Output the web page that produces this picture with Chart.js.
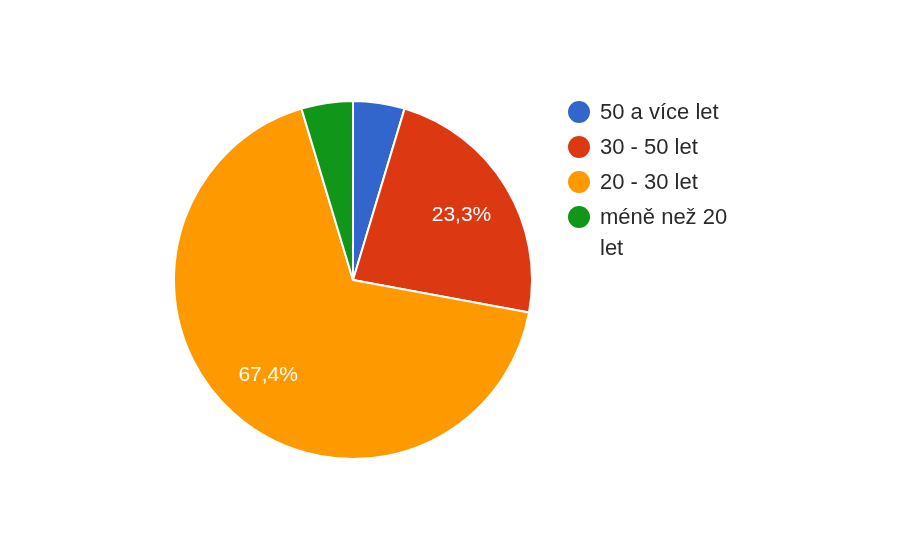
<!DOCTYPE html>
<html>
<head>
<meta charset="utf-8">
<script src="https://cdn.jsdelivr.net/npm/chart.js@4/dist/chart.umd.min.js"></script>
<style>
  html, body { margin: 0; padding: 0; background: #fff; }
  #wrap { width: 909px; height: 549px; position: relative; }
</style>
</head>
<body>
<div id="wrap"><canvas id="pie"></canvas></div>
<script>
// data
const labels = ['50 a více let', '30 - 50 let', '20 - 30 let', 'méně než 20 let'];
const counts = [2, 10, 29, 2];
const colors = ['#3366cc', '#dc3912', '#ff9900', '#109618'];

const total = counts.reduce((a, b) => a + b, 0);
const FONT = 'Arial, "Liberation Sans", sans-serif';

// percent labels inside the bigger slices
const sliceLabels = {
  id: 'sliceLabels',
  afterDatasetsDraw(chart) {
    const ctx = chart.ctx;
    const meta = chart.getDatasetMeta(0);
    ctx.save();
    ctx.font = '21px ' + FONT;
    ctx.fillStyle = '#fff';
    ctx.textAlign = 'center';
    ctx.textBaseline = 'middle';
    meta.data.forEach((arc, i) => {
      const pct = counts[i] / total * 100;
      if (pct < 10) return;
      const p = arc.getProps(['x', 'y', 'startAngle', 'endAngle', 'outerRadius']);
      const mid = (p.startAngle + p.endAngle) / 2;
      const r = p.outerRadius * 0.71;
      const txt = pct.toFixed(1).replace('.', ',') + '%';
      ctx.fillText(txt, p.x + Math.cos(mid) * r, p.y + Math.sin(mid) * r + 1);
    });
    ctx.restore();
  }
};

// legend on the right, wraps long labels
const sideLegend = {
  id: 'sideLegend',
  afterDraw(chart) {
    const ctx = chart.ctx;
    const x0 = 579, y0 = 112, step = 35, maxW = 145, lineH = 31;
    ctx.save();
    ctx.font = '22px ' + FONT;
    ctx.textBaseline = 'middle';
    labels.forEach((lab, i) => {
      const y = y0 + i * step;
      ctx.beginPath();
      ctx.arc(x0, y, 11, 0, Math.PI * 2);
      ctx.fillStyle = colors[i];
      ctx.fill();
      // wrap words
      const words = lab.split(' ');
      const lines = [];
      let cur = '';
      words.forEach(w => {
        const t = cur ? cur + ' ' + w : w;
        if (ctx.measureText(t).width > maxW && cur) { lines.push(cur); cur = w; }
        else cur = t;
      });
      lines.push(cur);
      ctx.fillStyle = '#2a2a2a';
      lines.forEach((ln, k) => ctx.fillText(ln, 600, y + 1 + k * lineH));
    });
    ctx.restore();
  }
};

new Chart(document.getElementById('pie'), {
  type: 'pie',
  data: {
    labels: labels,
    datasets: [{
      data: counts,
      backgroundColor: colors,
      borderColor: '#fff',
      borderWidth: 2
    }]
  },
  options: {
    responsive: true,
    maintainAspectRatio: false,
    animation: false,
    layout: { padding: { left: 173, right: 376, top: 100, bottom: 89 } },
    plugins: {
      legend: { display: false },
      tooltip: { enabled: false }
    }
  },
  plugins: [sliceLabels, sideLegend]
});
</script>
</body>
</html>
